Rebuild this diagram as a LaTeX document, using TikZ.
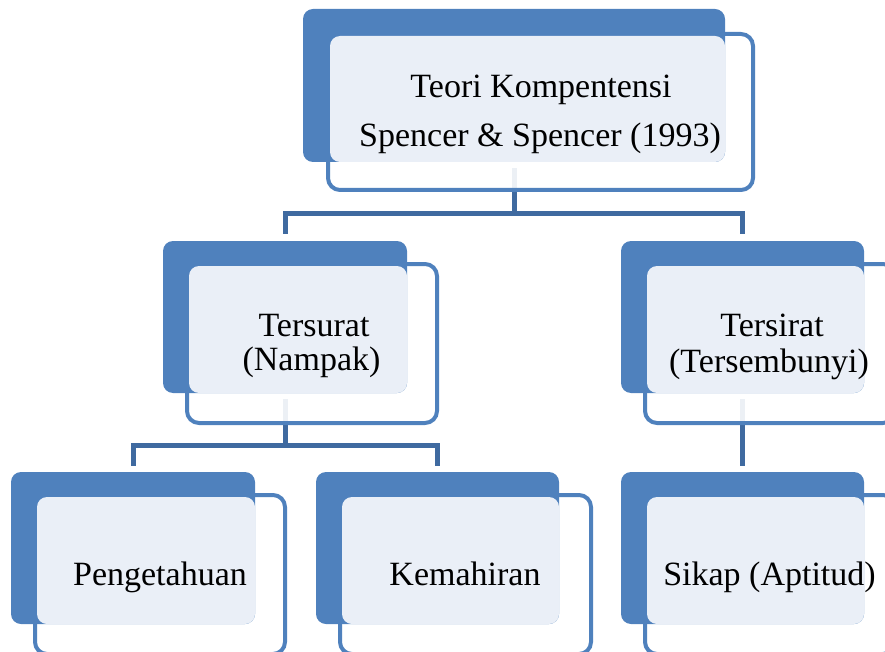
\documentclass[tikz,border=0pt]{standalone}
\usepackage{fontspec}
\setmainfont{Liberation Serif}
\usetikzlibrary{backgrounds}
\definecolor{darkb}{HTML}{4F81BD}
\definecolor{lightb}{HTML}{EAEFF7}
\definecolor{connb}{HTML}{3F6AA0}
\tikzset{
  framebox/.style={draw=darkb, line width=4pt, fill=white, fill opacity=0.9, rounded corners=12pt, inner sep=0pt, outer sep=0pt},
  darkbox/.style={fill=darkb, rounded corners=10pt, inner sep=0pt, outer sep=0pt},
  lightbox/.style={fill=lightb, rounded corners=10pt, inner sep=0pt, outer sep=0pt},
  lbl/.style={font=\fontsize{34}{40}\selectfont, anchor=base, inner sep=0pt, text=black},
  conn/.style={draw=connb, line width=5pt}
}
\begin{document}
\begin{tikzpicture}[x=1pt, y=-1pt]
\clip (0,0) rectangle (885,652);
\useasboundingbox (0,0) rectangle (885,652);

% top
\node[framebox, minimum width=425pt, minimum height=156pt] (f1) at (540.5,112) {};
\node[darkbox, minimum width=422pt, minimum height=153pt] (d1) at (514,85.5) {};
\node[lightbox, minimum width=395pt, minimum height=126pt] (l1) at (527.5,99) {};
\node[lbl] (t1a) at (541,98) {Teori Kompentensi};
\node[lbl] (t1b) at (540,147) {Spencer \& Spencer (1993)};

% Tersurat
\node[framebox, minimum width=250pt, minimum height=159pt] (f2) at (312,343.5) {};
\node[darkbox, minimum width=244pt, minimum height=152pt] (d2) at (285,317) {};
\node[lightbox, minimum width=218pt, minimum height=127pt] (l2) at (298,329.5) {};
\node[lbl] (t2a) at (314,336) {Tersurat};
\node[lbl] (t2b) at (311.5,370) {(Nampak)};

% Tersirat
\node[framebox, minimum width=250pt, minimum height=159pt] (f3) at (770,343.5) {};
\node[darkbox, minimum width=243pt, minimum height=152pt] (d3) at (742.5,317) {};
\node[lightbox, minimum width=217pt, minimum height=127pt] (l3) at (755.5,329.5) {};
\node[lbl] (t3a) at (772,336) {Tersirat};
\node[lbl] (t3b) at (769,372) {(Tersembunyi)};

% Pengetahuan
\node[framebox, minimum width=250pt, minimum height=159pt] (f4) at (160,574.5) {};
\node[darkbox, minimum width=244pt, minimum height=152pt] (d4) at (133,548) {};
\node[lightbox, minimum width=218pt, minimum height=127pt] (l4) at (146,560.5) {};
\node[lbl] (t4) at (160,585) {Pengetahuan};

% Kemahiran
\node[framebox, minimum width=251pt, minimum height=159pt] (f5) at (465.5,574.5) {};
\node[darkbox, minimum width=243pt, minimum height=152pt] (d5) at (437.5,548) {};
\node[lightbox, minimum width=217pt, minimum height=127pt] (l5) at (450.5,560.5) {};
\node[lbl] (t5) at (465,585) {Kemahiran};

% Sikap
\node[framebox, minimum width=250pt, minimum height=159pt] (f6) at (770,574.5) {};
\node[darkbox, minimum width=243pt, minimum height=152pt] (d6) at (742.5,548) {};
\node[lightbox, minimum width=217pt, minimum height=127pt] (l6) at (755.5,560.5) {};
\node[lbl] (t6) at (769.5,585) {Sikap (Aptitud)};

\coordinate (j1) at (0,214);
\coordinate (j2) at (0,445);

\begin{scope}[on background layer]
\draw[conn] ([yshift=-6pt]d1.south) -- (d1.south |- j1) -| ([yshift=7pt]d2.north);
\draw[conn] (d1.south |- j1) -| ([yshift=7pt]d3.north);
\draw[conn] ([yshift=-6pt]d2.south) -- (d2.south |- j2) -| ([yshift=6pt]d4.north);
\draw[conn] (d2.south |- j2) -| ([yshift=6pt]d5.north);
\draw[conn] ([yshift=-6pt]d3.south) -- ([yshift=6pt]d6.north);
\end{scope}
\end{tikzpicture}
\end{document}
